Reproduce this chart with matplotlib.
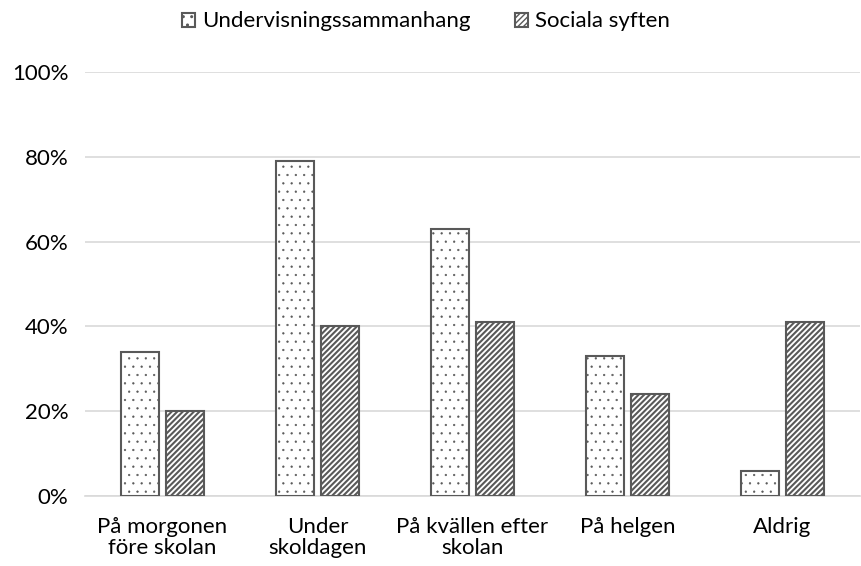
import numpy as np
import matplotlib.pyplot as plt
from matplotlib.ticker import PercentFormatter

plt.rcParams['font.family'] = ['Lato', 'DejaVu Sans']
plt.rcParams['hatch.color'] = '#595959'

categories = ["På morgonen\nföre skolan", "Under\nskoldagen", "På kvällen efter\nskolan", "På helgen", "Aldrig"]
undervisning = [34, 79, 63, 33, 6]
sociala = [20, 40, 41, 24, 41]

fig = plt.figure(figsize=(8.61, 5.66), dpi=100)
ax = fig.add_axes([85/861, 1-496/566, 775/861, 424/566])

x = np.arange(len(categories))
w = 0.24
gap = 0.05

plt.rcParams['hatch.linewidth'] = 0.4
b1 = ax.bar(x - (w + gap)/2, undervisning, w, color='white', edgecolor='#595959', linewidth=1.5,
            hatch='..', label='Undervisningssammanhang', zorder=3)
plt.rcParams['hatch.linewidth'] = 1.5
b2 = ax.bar(x + (w + gap)/2, sociala, w, color='white', edgecolor='#595959', linewidth=1.5,
            hatch='//////', label='Sociala syften', zorder=3)
for p in b1:
    if hasattr(p, 'set_hatch_linewidth'):
        p.set_hatch_linewidth(0.4)

ax.set_xlim(-0.5, 4.5)
ax.set_ylim(0, 100)
ax.set_yticks(range(0, 101, 20))
ax.yaxis.set_major_formatter(PercentFormatter(decimals=0))
ax.grid(axis='y', color='#d9d9d9', linewidth=1.2, zorder=0)
for s in ['top', 'right', 'left']:
    ax.spines[s].set_visible(False)
ax.spines['bottom'].set_color('#d9d9d9')
ax.spines['bottom'].set_linewidth(1.2)
ax.tick_params(length=0, labelsize=16, colors='#000000')
ax.tick_params(axis='y', pad=12)
ax.tick_params(axis='x', pad=15)
ax.set_xticks(x)
ax.set_xticklabels(categories, linespacing=1.05)

leg = ax.legend(loc='upper center', bbox_to_anchor=(0.44, 1.19), ncol=2, frameon=False,
                fontsize=16, handlelength=0.6, handleheight=0.6, handletextpad=0.3, columnspacing=2.0)
for h in leg.legend_handles:
    if hasattr(h, 'set_hatch_linewidth'):
        h.set_hatch_linewidth(1.0)

fig.savefig('out.png', dpi=100)
